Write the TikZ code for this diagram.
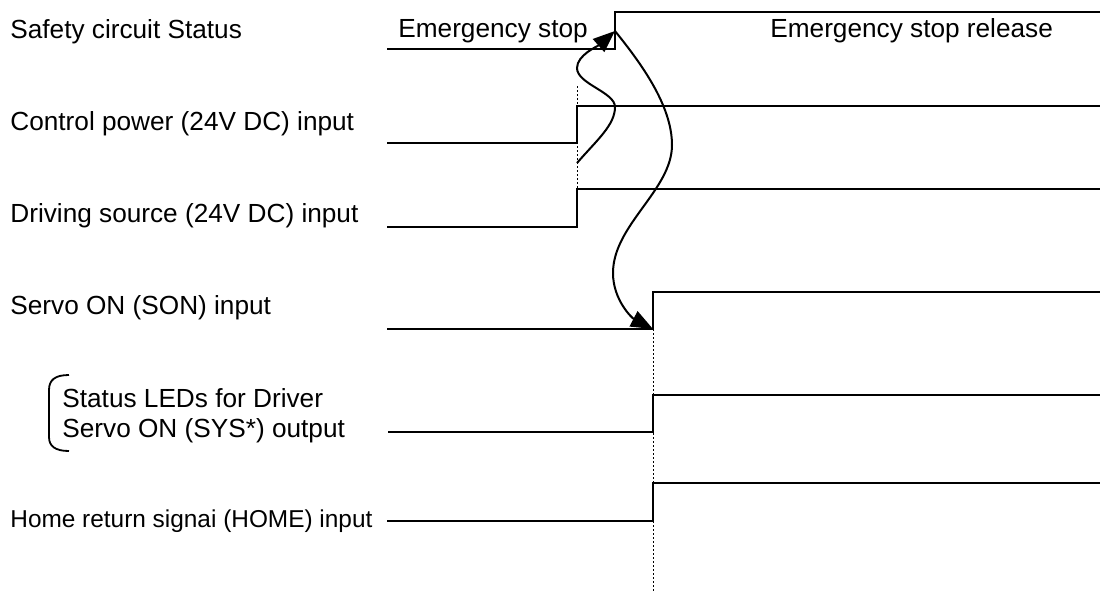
\documentclass[tikz,border=0pt]{standalone}
\usepackage{fontspec}
\setmainfont{Liberation Sans}
\usetikzlibrary{arrows.meta}
\tikzset{
  sig/.style={line width=1.2pt},
  guide/.style={line width=0.5pt, dash pattern=on 1pt off 1pt},
  lbl/.style={anchor=base west, inner sep=0pt, font=\fontsize{13.1}{15.7}\selectfont},
  cause/.style={line width=1pt, -{Triangle[length=11pt,width=8.5pt]}},
  brace/.style={line width=0.9pt}
}

\begin{document}
\begin{tikzpicture}[x=0.5pt,y=-0.5pt]
  \useasboundingbox (0,0) rectangle (1100,596);
  % signal names
  \node[lbl] (safety) at (10,38) {Safety circuit Status};
  \node[lbl] (ctrl) at (10,130) {Control power (24V DC) input};
  \node[lbl] (drive) at (10,222) {Driving source (24V DC) input};
  \node[lbl] (son) at (10,314) {Servo ON (SON) input};
  \node[lbl] (sysA) at (62,407) {Status LEDs for Driver};
  \node[lbl] (sysB) at (62,437) {Servo ON (SYS*) output};
  \node[lbl, font=\fontsize{12.2}{15}\selectfont] (home) at (10,527) {Home return signai (HOME) input};
  \node[lbl] (estop) at (398,37) {Emergency stop};
  \node[lbl] (erel) at (770,37) {Emergency stop release};
  % bracket round the two-line name
  \draw[brace] (69,375) .. controls (55,375) and (49,380) .. (49,390) -- (49,437)
    .. controls (49,446) and (55,451) .. (69,451);
  % timing guides
  \draw[guide] (577,86) -- (577,189);
  \draw[guide] (653,329) -- (653,593);
  % waveforms
  \draw[sig] (387,49) -- (615,49) -- (615,12) -- (1100,12);
  \draw[sig] (387,143) -- (577,143) -- (577,106) -- (1100,106);
  \draw[sig] (387,227) -- (577,227) -- (577,189) -- (1100,189);
  \draw[sig] (387,329) -- (653,329) -- (653,292) -- (1100,292);
  \draw[sig] (388,432) -- (653,432) -- (653,395) -- (1100,395);
  \draw[sig] (387,521) -- (653,521) -- (653,483) -- (1100,483);
  % sequence arrows
  \coordinate (pwrOn) at (577,163);
  \coordinate (esUp) at (615,31);
  \coordinate (sonUp) at (653,329);
  \draw[cause] (pwrOn) .. controls (597,140) and (615,125) .. (615,107)
    .. controls (615,92) and (577,84) .. (577,68)
    .. controls (577,55) and (598,46) .. (esUp);
  \draw[cause] (esUp) .. controls (640,62) and (672,105) .. (672,145)
    .. controls (672,190) and (613,225) .. (613,273)
    .. controls (613,300) and (632,318) .. (sonUp);
\end{tikzpicture}
\end{document}
